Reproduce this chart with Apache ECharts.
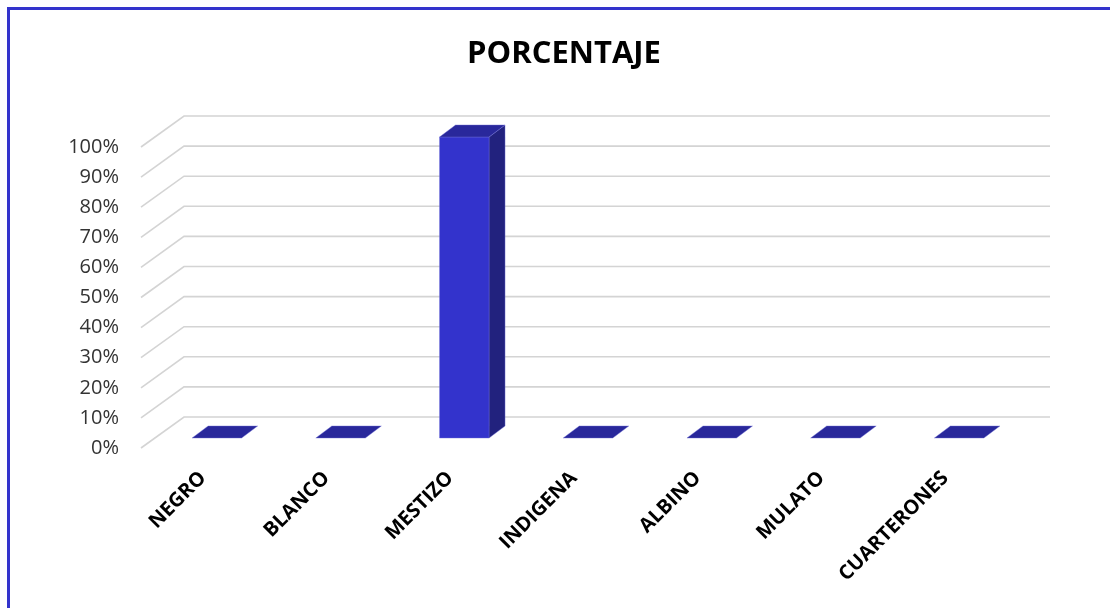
<!DOCTYPE html>
<html>
<head>
<meta charset="utf-8">
<script src="https://cdn.jsdelivr.net/npm/echarts@6/dist/echarts.min.js"></script>
<style>
html,body{margin:0;padding:0;background:#fff;}
#chart{width:1110px;height:608px;}
</style>
</head>
<body>
<div id="chart"></div>
<script>
// ---- data ----
var categories = ['NEGRO', 'BLANCO', 'MESTIZO', 'INDIGENA', 'ALBINO', 'MULATO', 'CUARTERONES'];
var percentValues = [0, 0, 100, 0, 0, 0, 0];
var yTicks = [0, 10, 20, 30, 40, 50, 60, 70, 80, 90, 100];
var chartTitle = 'PORCENTAJE';

// ---- 3D look (pixel offsets, style only) ----
var WALL_DX = 43, WALL_DY = -31;   // depth of floor / side wall
var BAR_OX = 14, BAR_OY = -10;     // bar front plane offset from front edge
var BAR_DX = 16, BAR_DY = -12;     // bar depth

var chart = echarts.init(document.getElementById('chart'), null, {renderer: 'canvas'});

var option = {
  backgroundColor: '#ffffff',
  animation: false,
  graphic: [
    {
      type: 'rect',
      shape: {x: 8.5, y: 8.5, width: 1200, height: 700},
      style: {fill: 'none', stroke: '#3333cc', lineWidth: 3},
      z: 100
    },
    {
      type: 'text',
      x: 564, y: 54,
      style: {
        text: chartTitle,
        textAlign: 'center',
        textVerticalAlign: 'middle',
        font: 'bold 31px "Open Sans"',
        fill: '#000000'
      }
    }
  ],
  grid: {left: 141, right: 103, top: 147, bottom: 160, containLabel: false},
  xAxis: {
    type: 'category',
    data: categories,
    boundaryGap: true,
    axisLine: {show: false},
    axisTick: {show: false},
    splitLine: {show: false},
    axisLabel: {
      rotate: 45,
      interval: 0,
      margin: 27,
      fontFamily: 'Open Sans',
      fontWeight: 'bold',
      fontSize: 20,
      color: '#000000'
    }
  },
  yAxis: {
    type: 'value',
    min: 0,
    max: 100,
    interval: 10,
    axisLine: {show: false},
    axisTick: {show: false},
    splitLine: {show: false},
    axisLabel: {
      margin: 22,
      padding: [5, 0, 0, 0],
      fontFamily: 'Open Sans',
      fontSize: 20,
      color: '#333333',
      formatter: '{value}%'
    }
  },
  series: [
    {
      type: 'custom',
      name: 'grid3d',
      silent: true,
      z: 1,
      data: yTicks.map(function (v) { return [0, v]; }),
      encode: {x: 0, y: 1},
      renderItem: function (params, api) {
        var p = api.coord([0, api.value(1)]);
        var band = api.size([1, 0])[0];
        var xL = p[0] - band / 2;
        var xR = xL + band * categories.length;
        var y = p[1];
        return {
          type: 'polyline',
          shape: {points: [[xL, y], [xL + WALL_DX, y + WALL_DY], [xR + WALL_DX, y + WALL_DY]]},
          style: {fill: 'none', stroke: '#d4d4d4', lineWidth: 1.6}
        };
      }
    },
    {
      type: 'custom',
      name: 'PORCENTAJE',
      z: 5,
      data: percentValues.map(function (v, i) { return [i, v]; }),
      encode: {x: 0, y: 1},
      renderItem: function (params, api) {
        var i = api.value(0), v = api.value(1);
        var p0 = api.coord([i, 0]);
        var p1 = api.coord([i, v]);
        var band = api.size([1, 0])[0];
        var w = band * 0.4;
        var xl = p0[0] + BAR_OX - w / 2, xr = xl + w;
        var yb = p0[1] + BAR_OY, yt = p1[1] + BAR_OY;
        var children = [];
        var edge = 'rgba(110,110,215,0.7)';
        if (yb - yt > 0.5) {
          children.push({
            type: 'polygon',
            shape: {points: [[xr, yt], [xr + BAR_DX, yt + BAR_DY], [xr + BAR_DX, yb + BAR_DY], [xr, yb]]},
            style: {fill: '#22227e', stroke: edge, lineWidth: 0.6}
          });
          children.push({
            type: 'rect',
            shape: {x: xl, y: yt, width: w, height: yb - yt},
            style: {fill: '#3333cc', stroke: edge, lineWidth: 0.6}
          });
        }
        children.push({
          type: 'polygon',
          shape: {points: [[xl, yt], [xr, yt], [xr + BAR_DX, yt + BAR_DY], [xl + BAR_DX, yt + BAR_DY]]},
          style: {fill: '#29289b', stroke: edge, lineWidth: 0.6}
        });
        return {type: 'group', children: children};
      }
    }
  ]
};
chart.setOption(option);
</script>
</body>
</html>
